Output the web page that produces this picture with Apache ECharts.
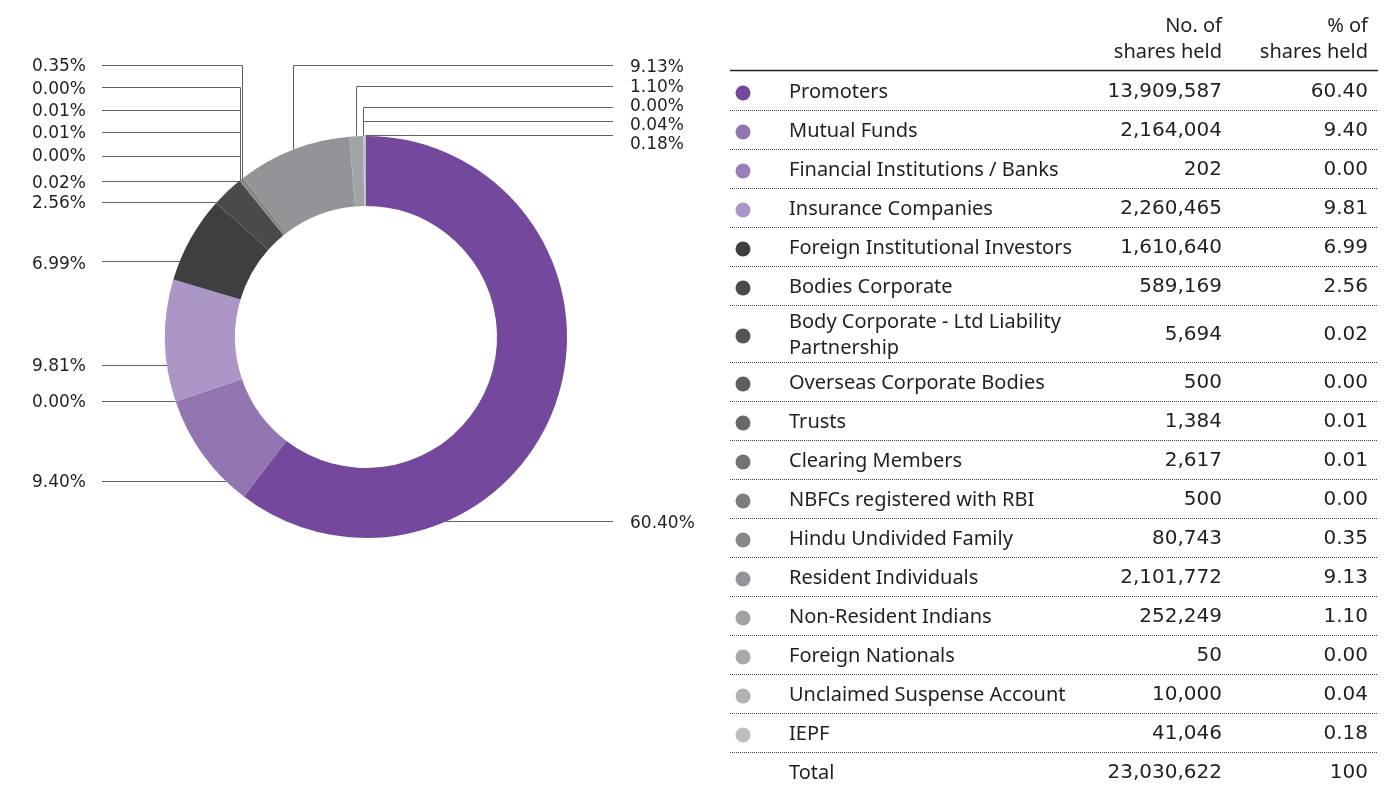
<!DOCTYPE html>
<html>
<head>
<meta charset="utf-8">
<script src="https://cdn.jsdelivr.net/npm/echarts@6/dist/echarts.min.js"></script>
<style>
  html, body { margin: 0; padding: 0; background: #ffffff; }
  #chart { width: 1394px; height: 785px; }
</style>
</head>
<body>
<div id="chart"></div>
<script>
// ---------------- DATA ----------------
const categories = [
  'Promoters',
  'Mutual Funds',
  'Financial Institutions / Banks',
  'Insurance Companies',
  'Foreign Institutional Investors',
  'Bodies Corporate',
  'Body Corporate - Ltd Liability\nPartnership',
  'Overseas Corporate Bodies',
  'Trusts',
  'Clearing Members',
  'NBFCs registered with RBI',
  'Hindu Undivided Family',
  'Resident Individuals',
  'Non-Resident Indians',
  'Foreign Nationals',
  'Unclaimed Suspense Account',
  'IEPF'
];
const sharesHeld = [13909587, 2164004, 202, 2260465, 1610640, 589169, 5694, 500, 1384, 2617, 500, 80743, 2101772, 252249, 50, 10000, 41046];
const percentHeld = ['60.40', '9.40', '0.00', '9.81', '6.99', '2.56', '0.02', '0.00', '0.01', '0.01', '0.00', '0.35', '9.13', '1.10', '0.00', '0.04', '0.18'];
const totalLabel = 'Total';
const totalShares = '23,030,622';
const totalPercent = '100';
const headerShares = ['No. of', 'shares held'];
const headerPercent = ['% of', 'shares held'];

// ---------------- STYLE ----------------
const colors = ['#74489d', '#9274b1', '#9a7ebb', '#ac96c8', '#3f3f42', '#4a4a4d', '#545457', '#5e5e61',
  '#69696c', '#737376', '#7d7d80', '#87878a', '#939497', '#a2a3a6', '#a9aaac', '#b1b2b4', '#bcbdbf'];
const TEXT = '#231f20';
const LINE = '#5f6062';
const CX = 366, CY = 337, R_IN = 131, R_OUT = 201;
const TEXT_DY = 2; // visual baseline correction

// label layout (positions only)
const labelSide  = ['R','L','L','L','L','L','L','L','L','L','L','L','R','R','R','R','R'];
const labelMode  = ['ring','ring','ring','ring','ring','ring','drop','drop','drop','drop','drop','drop','drop','drop','drop','drop','drop'];
const labelLineY = [521.5, 481.5, 401.5, 365.5, 261.5, 202.5, 181.5, 156.5, 132.5, 110.5, 87.5, 65.5, 65.5, 86.5, 107.5, 121.5, 135.5];
const labelTextY = [522, 481, 401, 365, 263, 202, 182, 155, 132, 110, 88, 65, 66, 86, 105, 124, 143];
const LEFT_TEXT_X = 32, LEFT_LINE_END = 102, RIGHT_TEXT_X = 630, RIGHT_LINE_END = 613;

// table layout
const COL_DOT = 743, COL_NAME = 789, COL_NUM = 1222, COL_PCT = 1368;
const TABLE_L = 730, TABLE_R = 1378;
const FIRST_ROW_Y = 90, ROW_H = 39, TALL_ROW_H = 57;
const NAME_FONT = '"Noto Sans", sans-serif';
const NUM_FONT = '"DejaVu Sans", sans-serif';

const chart = echarts.init(document.getElementById('chart'), null, { renderer: 'canvas' });

function txt(x, y, s, align, family, size) {
  return {
    type: 'text', x: x, y: y + TEXT_DY, silent: true,
    style: {
      text: s, fill: TEXT, fontSize: size || 20, fontFamily: family || NAME_FONT,
      align: align || 'left', verticalAlign: 'middle',
      textAlign: align || 'left', textVerticalAlign: 'middle', lineHeight: 26
    }
  };
}

// build table graphics
const graphics = [];
graphics.push(txt(COL_NUM, 24, headerShares[0], 'right'));
graphics.push(txt(COL_NUM, 50, headerShares[1], 'right'));
graphics.push(txt(COL_PCT, 24, headerPercent[0], 'right'));
graphics.push(txt(COL_PCT, 50, headerPercent[1], 'right'));
graphics.push({ type: 'line', silent: true, shape: { x1: TABLE_L, y1: 70.5, x2: TABLE_R, y2: 70.5 },
  style: { stroke: TEXT, lineWidth: 1.5 } });

let yTop = FIRST_ROW_Y - ROW_H / 2;
categories.forEach((name, i) => {
  const h = name.indexOf('\n') >= 0 ? TALL_ROW_H : ROW_H;
  const yc = yTop + h / 2;
  graphics.push({ type: 'circle', silent: true, shape: { cx: COL_DOT, cy: yc + 3, r: 7.5 }, style: { fill: colors[i] } });
  graphics.push(txt(COL_NAME, yc, name, 'left'));
  graphics.push(txt(COL_NUM, yc, sharesHeld[i].toLocaleString('en-US'), 'right', NUM_FONT));
  graphics.push(txt(COL_PCT, yc, percentHeld[i], 'right', NUM_FONT));
  const yb = Math.round(yTop + h) + 0.5;
  graphics.push({ type: 'line', silent: true, shape: { x1: TABLE_L, y1: yb, x2: TABLE_R, y2: yb },
    style: { stroke: '#444', lineWidth: 1, lineDash: [1, 1] } });
  yTop += h;
});
const yTotal = yTop + ROW_H / 2;
graphics.push(txt(COL_NAME, yTotal, totalLabel, 'left'));
graphics.push(txt(COL_NUM, yTotal, totalShares, 'right', NUM_FONT));
graphics.push(txt(COL_PCT, yTotal, totalPercent, 'right', NUM_FONT));

const option = {
  animation: false,
  backgroundColor: '#ffffff',
  graphic: graphics,
  series: [{
    type: 'pie',
    radius: [R_IN, R_OUT],
    center: [CX, CY],
    startAngle: 90,
    clockwise: true,
    avoidLabelOverlap: false,
    silent: true,
    emphasis: { disabled: true },
    itemStyle: { borderWidth: 0 },
    data: categories.map((c, i) => ({ name: c, value: sharesHeld[i], itemStyle: { color: colors[i] } })),
    label: {
      show: true,
      position: 'outside',
      formatter: p => percentHeld[p.dataIndex] + '%',
      color: TEXT,
      fontSize: 17,
      fontFamily: NUM_FONT
    },
    labelLine: { show: true, length: 10, length2: 10, smooth: false, lineStyle: { color: LINE, width: 1 } },
    labelLayout: function (params) {
      const i = params.dataIndex;
      const left = labelSide[i] === 'L';
      const ly = labelLineY[i];
      const endX = left ? LEFT_LINE_END : RIGHT_LINE_END;
      let pts;
      if (labelMode[i] === 'ring') {
        const dx = Math.sqrt(Math.max(0, R_OUT * R_OUT - (ly - CY) * (ly - CY)));
        const ax = left ? CX - dx : CX + dx;
        pts = [[ax, ly], [ax, ly], [endX, ly]];
      } else {
        const a = (params.labelLinePoints && params.labelLinePoints[0]) || [CX, CY - R_OUT];
        const ax = Math.round(a[0]) + 0.5;
        pts = [[ax, a[1]], [ax, ly], [endX, ly]];
      }
      return {
        x: left ? LEFT_TEXT_X : RIGHT_TEXT_X,
        y: labelTextY[i] + TEXT_DY,
        align: 'left',
        verticalAlign: 'middle',
        labelLinePoints: pts
      };
    }
  }]
};
chart.setOption(option);
</script>
</body>
</html>
